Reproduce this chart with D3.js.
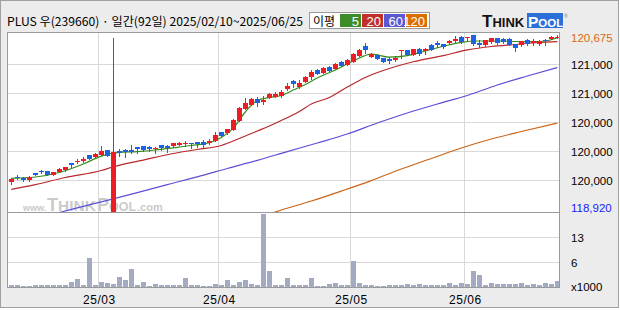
<!DOCTYPE html>
<html><head><meta charset="utf-8">
<script src="https://cdn.jsdelivr.net/npm/d3@7"></script>
<style>html,body{margin:0;padding:0;background:#fff;}svg{display:block}</style>
</head><body><svg id="c" width="620" height="310"></svg>
<script>
const title = "PLUS 우(239660) · 일간(92일) 2025/02/10~2025/06/25";
const opens = [119220,119270,119265,119240,119315,119335,119330,119295,119325,119345,
119410,119425,119430,119490,119475,119495,119540,118920,119535,119540,
119540,119570,119580,119575,119550,119590,119585,119585,119595,119600,
119610,119625,119620,119610,119630,119720,119710,119745,119835,119955,
119995,120055,120025,120065,120075,120085,120150,120235,120175,120225,
120275,120345,120315,120375,120355,120425,120395,120425,120485,120585,
120475,120495,120460,120455,120440,120530,120540,120495,120555,120535,
120595,120610,120600,120610,120635,120680,120660,120695,120615,120590,
120620,120660,120650,120655,120600,120590,120645,120615,120600,120640,
120655,120665];
const highs = [119260,119290,119270,119280,119315,119345,119330,119325,119360,119375,
119410,119455,119475,119490,119510,119580,119545,120665,119555,119555,
119590,119570,119585,119580,119575,119595,119590,119615,119620,119630,
119610,119625,119645,119650,119720,119725,119755,119850,119970,120065,
120060,120075,120085,120110,120125,120145,120215,120240,120245,120280,
120345,120350,120370,120380,120410,120430,120450,120515,120555,120615,
120510,120500,120465,120475,120485,120540,120545,120555,120560,120560,
120600,120630,120605,120640,120690,120685,120675,120700,120645,120645,
120665,120665,120660,120660,120605,120635,120650,120650,120640,120650,
120685,120700];
const lows = [119200,119250,119235,119235,119290,119315,119290,119290,119320,119335,
119375,119415,119425,119455,119470,119495,119480,118920,119480,119475,
119515,119515,119535,119535,119515,119540,119525,119575,119590,119580,
119560,119575,119575,119605,119630,119680,119705,119745,119830,119955,
119990,119985,120000,120060,120075,120075,120140,120170,120160,120220,
120255,120300,120310,120330,120350,120380,120390,120420,120480,120515,
120470,120450,120420,120415,120435,120465,120490,120490,120495,120500,
120540,120575,120565,120605,120620,120615,120630,120595,120570,120585,
120615,120605,120610,120590,120530,120585,120595,120590,120595,120595,
120650,120660];
const closes = [119250,119260,119240,119270,119295,119320,119295,119320,119350,119370,
119395,119435,119455,119455,119500,119530,119480,119520,119515,119520,
119520,119550,119540,119550,119560,119560,119560,119610,119615,119615,
119600,119605,119595,119630,119690,119685,119750,119845,119965,120015,
120055,120015,120045,120105,120100,120125,120185,120205,120215,120275,
120325,120305,120365,120335,120405,120385,120445,120505,120545,120545,
120505,120455,120425,120435,120465,120540,120495,120550,120500,120550,
120545,120590,120570,120635,120650,120620,120675,120600,120595,120640,
120660,120610,120620,120595,120560,120630,120600,120630,120635,120630,
120680,120675];
const volumes = [0.61,0.61,0.35,0.35,0.61,0.61,0.61,0.61,0.61,0.61,
1.39,2.17,0.61,7.63,0.61,1.39,1.13,0.87,2.69,1.91,
4.77,0.61,1.39,0.35,0.87,0.61,0.61,0.61,0.61,2.43,
0.61,0.61,0.35,0.35,0.87,0.61,1.91,0.61,1.39,1.91,
0.87,0.61,19.07,4.25,0.61,0.61,2.43,0.61,0.61,0.61,
2.43,0.35,0.35,0.87,1.13,0.61,0.61,6.85,1.13,0.61,
0.61,0.35,0.35,0.61,0.61,0.61,0.87,0.61,0.87,0.61,
0.61,0.61,0.61,1.13,0.61,1.13,0.87,4.25,3.21,0.61,
1.13,0.87,0.87,0.87,0.87,1.13,0.61,0.87,0.61,1.13,
0.87,1.65];

const ma5Idx = [0,4,8,12,15,18,21,24,27,30,33,35,37,39,41,43,45,47,49,51,54,57,60,63,66,69,72,75,78,81,84,87,89,91];
const ma5 = [119258,119271,119316,119401,119481,119518,119526,119542,119564,119587,119614,119667,119762,119923,120038,120068,120088,120143,120199,120264,120344,120434,120504,120474,120489,120535,120582,120622,120635,120635,120630,120628,120635,120668];
const ma20Idx = [0,4,9,15,17,22,27,31,35,38,41,43,45,48,50,53,56,59,62,67,72,76,80,84,88,91];
const ma20 = [119147,119195,119266,119336,119374,119441,119507,119547,119587,119657,119732,119782,119837,119928,120003,120068,120173,120269,120339,120427,120489,120545,120580,120600,120620,120628];
const ma60Idx = [8,11,16,21,26,31,36,41,46,51,56,61,66,71,76,81,86,91];
const ma60 = [118915,118962,119037,119115,119195,119272,119356,119438,119526,119612,119702,119812,119913,120003,120088,120194,120284,120369];
const ma120Idx = [43,45,50,55,60,65,70,75,80,85,91];
const ma120 = [118900,118940,119030,119130,119235,119351,119456,119562,119652,119727,119812];

const monthIdx = [15,35,57,76];
const monthLabels = ["25/03","25/04","25/05","25/06"];
const priceTicks = [119241,119532,119823,120113,120404];
const lastPrice = 120675, minPrice = 118920;
const volTicks = [6.5,13];
const legendLabel = "이평";
const maNames = ["5","20","60","120"];
const maColors = ["#3c8c28","#c0302a","#5a58d2","#dc6e00"];
const lineColors = ["#3a8c1e","#b8282a","#5b4fd8","#cc6418"];

const svg = d3.select("#c");
const plotL = 7, plotR = 560, plotT = 32, priceB = 212, volB = 287;
const n = closes.length;

svg.append("rect").attr("x",0.5).attr("y",0.5).attr("width",618).attr("height",307)
  .attr("fill","#ececec").attr("stroke","#a0a0a0");
svg.append("rect").attr("x",plotL).attr("y",plotT).attr("width",plotR-plotL).attr("height",volB-plotT).attr("fill","#fff");

const x = d3.scaleBand().domain(d3.range(n)).range([8.3, 8.3 + 6*n]).paddingInner(0);
const cx = i => x(i) + x.bandwidth()/2;
const y = d3.scaleLinear().domain([minPrice, lastPrice]).range([212, 37]);
const v = d3.scaleLinear().domain([0, 13]).range([volB, 237]);

svg.append("defs").append("clipPath").attr("id","pc").append("rect")
  .attr("x",plotL).attr("y",plotT).attr("width",plotR-plotL).attr("height",priceB-plotT);

// watermark (one text element, segments at fixed x)
const fnt = "Liberation Sans, Arial, sans-serif";
const wm = svg.append("text").attr("y",210.5).attr("fill","#cbcbcb")
  .attr("font-family",fnt).attr("font-weight","bold");
[["www.",9,23],["T",18,47],["HINK",15.5,null],["P",18,97],["OOL",12.5,null],[".com",11,137]].forEach(([s,fs,px])=>{
  const t = wm.append("tspan").attr("font-size",fs).text(s);
  if (px !== null) t.attr("x",px);
});

// grid
const grid = svg.append("g").attr("stroke","#d9d9d9").attr("stroke-width",1);
grid.selectAll(".hp").data(priceTicks).join("line")
  .attr("x1",plotL).attr("x2",plotR).attr("y1",d=>Math.round(y(d))+0.5).attr("y2",d=>Math.round(y(d))+0.5);
grid.selectAll(".hv").data(volTicks).join("line").attr("class","hv")
  .attr("x1",plotL).attr("x2",plotR).attr("y1",d=>Math.round(v(d))+0.5).attr("y2",d=>Math.round(v(d))+0.5);
grid.selectAll(".vm").data(monthIdx).join("line").attr("class","vm")
  .attr("x1",d=>Math.round(x(d))+0.5).attr("x2",d=>Math.round(x(d))+0.5).attr("y1",plotT).attr("y2",volB);

// moving averages
const maG = svg.append("g").attr("clip-path","url(#pc)").attr("fill","none");
[[ma5Idx,ma5],[ma20Idx,ma20],[ma60Idx,ma60],[ma120Idx,ma120]].forEach(([idx,vals],k)=>{
  const pts = idx.map((d,j)=>[d, vals[j]]);
  maG.append("path").datum(pts)
    .attr("d", d3.line().x(d=>cx(d[0])).y(d=>y(d[1])).curve(d3.curveMonotoneX))
    .attr("stroke", lineColors[k]).attr("stroke-width",1.2);
});

// candles
const cg = svg.append("g").attr("clip-path","url(#pc)");
d3.range(n).forEach(i=>{
  const up = closes[i] >= opens[i];
  const col = up ? "#ee1c24" : "#1e62e2";
  const bx = Math.round(x(i)+0.5);
  const top = Math.round(y(Math.max(opens[i],closes[i])));
  const bot = Math.round(y(Math.min(opens[i],closes[i])));
  cg.append("line").attr("x1",bx+2.5).attr("x2",bx+2.5)
    .attr("y1",Math.round(y(highs[i]))).attr("y2",Math.round(y(lows[i]))+1)
    .attr("stroke",col).attr("stroke-width",1);
  cg.append("rect").attr("x",bx).attr("y",top).attr("width",5).attr("height",Math.max(1,bot-top)).attr("fill",col);
});

// volume
svg.append("g").selectAll("rect").data(volumes).join("rect")
  .attr("x",(d,i)=>Math.round(x(i)+0.5)).attr("width",5)
  .attr("y",d=>Math.round(v(d))).attr("height",d=>volB-Math.round(v(d)))
  .attr("fill","#a3abc3");

// frame
svg.append("rect").attr("x",plotL+0.5).attr("y",plotT+0.5).attr("width",plotR-plotL-1).attr("height",volB-plotT)
  .attr("fill","none").attr("stroke","#9a9a9a");
svg.append("line").attr("x1",plotL).attr("x2",plotR).attr("y1",priceB+0.5).attr("y2",priceB+0.5).attr("stroke","#9a9a9a");

// right axes
const pa = svg.append("g").attr("transform","translate(566,1)")
  .call(d3.axisRight(y).tickValues(priceTicks).tickSize(0).tickPadding(5)
    .tickFormat(d=>d3.format(",")(Math.ceil(d/1000)*1000)));
pa.select(".domain").remove();
pa.selectAll("text").attr("font-family",fnt).attr("font-size",11.5).attr("fill","#000");
svg.append("text").attr("x",571).attr("y",y(lastPrice)+1).attr("dy","0.35em")
  .attr("font-family",fnt).attr("font-size",11.5).attr("fill","#d86a10").text(d3.format(",")(lastPrice));
svg.append("text").attr("x",571).attr("y",Math.min(y(minPrice),208)).attr("dy","0.35em")
  .attr("font-family",fnt).attr("font-size",11.5).attr("fill","#1a1aff").text(d3.format(",")(minPrice));
const va = svg.append("g").attr("transform","translate(566,1)")
  .call(d3.axisRight(v).tickValues(volTicks).tickSize(0).tickPadding(5).tickFormat(d=>Math.floor(d)));
va.select(".domain").remove();
va.selectAll("text").attr("font-family",fnt).attr("font-size",11.5).attr("fill","#000");
svg.append("text").attr("x",571).attr("y",volB).attr("dy","0.35em")
  .attr("font-family",fnt).attr("font-size",11.5).attr("fill","#000").text("x1000");

// bottom labels
svg.append("g").selectAll("text").data(monthIdx).join("text")
  .attr("x",d=>x(d)+1).attr("y",304).attr("text-anchor","middle")
  .attr("font-family",fnt).attr("font-size",12).attr("letter-spacing",0.5).attr("fill","#000")
  .text((d,i)=>monthLabels[i]);

// header
svg.append("text").attr("x",7).attr("y",26).attr("font-family","Noto Sans CJK KR, sans-serif")
  .attr("font-size",12.2).attr("textLength",296).attr("lengthAdjust","spacingAndGlyphs").attr("fill","#000").text(title);

// legend
const lg = svg.append("g");
lg.append("rect").attr("x",309.5).attr("y",12.5).attr("width",120).attr("height",16).attr("fill","#fff").attr("stroke","#999");
lg.append("text").attr("x",313).attr("y",25.5).attr("font-family","Noto Sans CJK KR, sans-serif").attr("font-size",12)
  .text(legendLabel);
maNames.forEach((m,k)=>{
  const bx = 340 + k*22;
  lg.append("rect").attr("x",bx).attr("y",14).attr("width",21).attr("height",13).attr("fill",maColors[k]);
  lg.append("text").attr("x",bx+19).attr("y",25.5).attr("text-anchor","end").attr("font-family",fnt)
    .attr("font-size",13).attr("fill","#fff").text(m);
});

// logo (one text element)
svg.append("rect").attr("x",527).attr("y",13).attr("width",36).attr("height",15).attr("fill","#2d6fd8");
const lgo = svg.append("text").attr("y",27).attr("font-family",fnt).attr("font-weight","bold");
lgo.append("tspan").attr("x",482).attr("font-size",17).attr("fill","#111").text("T");
lgo.append("tspan").attr("font-size",13).attr("fill","#111").text("HINK");
lgo.append("tspan").attr("x",528).attr("font-size",15.5).attr("fill","#fff").text("P");
lgo.append("tspan").attr("font-size",11.5).attr("fill","#fff").text("OOL");
lgo.append("tspan").attr("x",564).attr("dy",-9).attr("font-size",5).attr("fill","#999").text("®");
</script></body></html>
